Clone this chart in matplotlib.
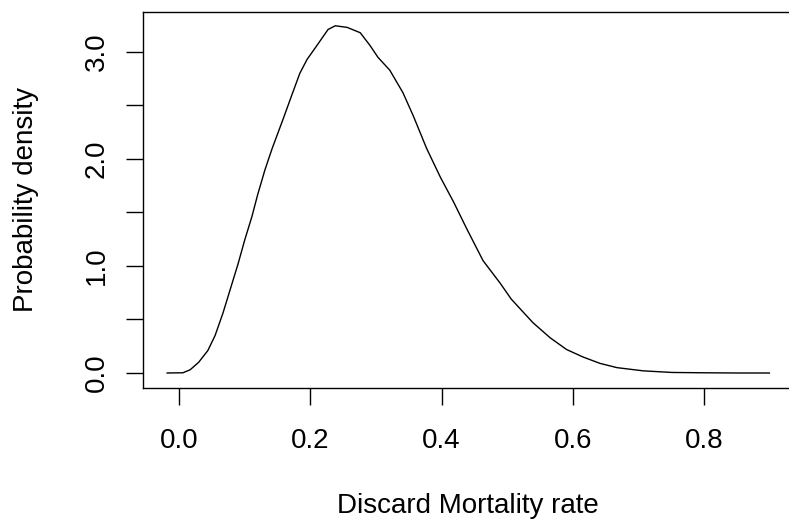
import matplotlib.pyplot as plt
import numpy as np

plt.rcParams['font.family'] = ['Liberation Sans', 'DejaVu Sans']

# density curve
rate = [-0.018, 0.006, 0.017, 0.03, 0.044, 0.055, 0.067, 0.078, 0.09, 0.10,
        0.111, 0.12, 0.131, 0.142, 0.159, 0.172, 0.184, 0.195, 0.21, 0.227,
        0.238, 0.256, 0.276, 0.291, 0.303, 0.321, 0.341, 0.357, 0.377, 0.398,
        0.418, 0.438, 0.463, 0.489, 0.506, 0.539, 0.565, 0.59, 0.615, 0.641,
        0.667, 0.707, 0.751, 0.80, 0.85, 0.899]
density = [0.0, 0.002, 0.03, 0.10, 0.21, 0.35, 0.56, 0.78, 1.02, 1.24,
           1.46, 1.67, 1.90, 2.10, 2.38, 2.60, 2.80, 2.93, 3.06, 3.21,
           3.245, 3.23, 3.18, 3.06, 2.95, 2.83, 2.62, 2.40, 2.10, 1.83,
           1.60, 1.35, 1.05, 0.84, 0.69, 0.47, 0.33, 0.22, 0.15, 0.09,
           0.05, 0.02, 0.005, 0.002, 0.0, 0.0]

xticks = [0.0, 0.2, 0.4, 0.6, 0.8]
yticks = [0.0, 0.5, 1.0, 1.5, 2.0, 2.5, 3.0]
ylabels = ['0.0', '', '1.0', '', '2.0', '', '3.0']

fig = plt.figure(figsize=(7.89, 5.27), dpi=100)
ax = fig.add_axes([0.1812, 0.2638, 0.8245, 0.7135])

ax.plot(rate, density, color='black', linewidth=1.0)

ax.set_xlim(-0.0548, 0.9357)
ax.set_ylim(-0.14, 3.374)

ax.set_xticks(xticks)
ax.set_xticklabels(['%.1f' % v for v in xticks])
ax.set_yticks(yticks)
ax.set_yticklabels(ylabels, rotation=90, va='center')

ax.tick_params(axis='both', direction='out', length=12, width=1.0,
               labelsize=20, colors='black')
ax.tick_params(axis='x', pad=17)
ax.tick_params(axis='y', pad=12)

for s in ax.spines.values():
    s.set_linewidth(1.0)
    s.set_color('black')

ax.set_xlabel('Discard Mortality rate', fontsize=20, labelpad=28)
ax.set_ylabel('Probability density', fontsize=20, labelpad=32)

fig.savefig('out.png', dpi=100)
